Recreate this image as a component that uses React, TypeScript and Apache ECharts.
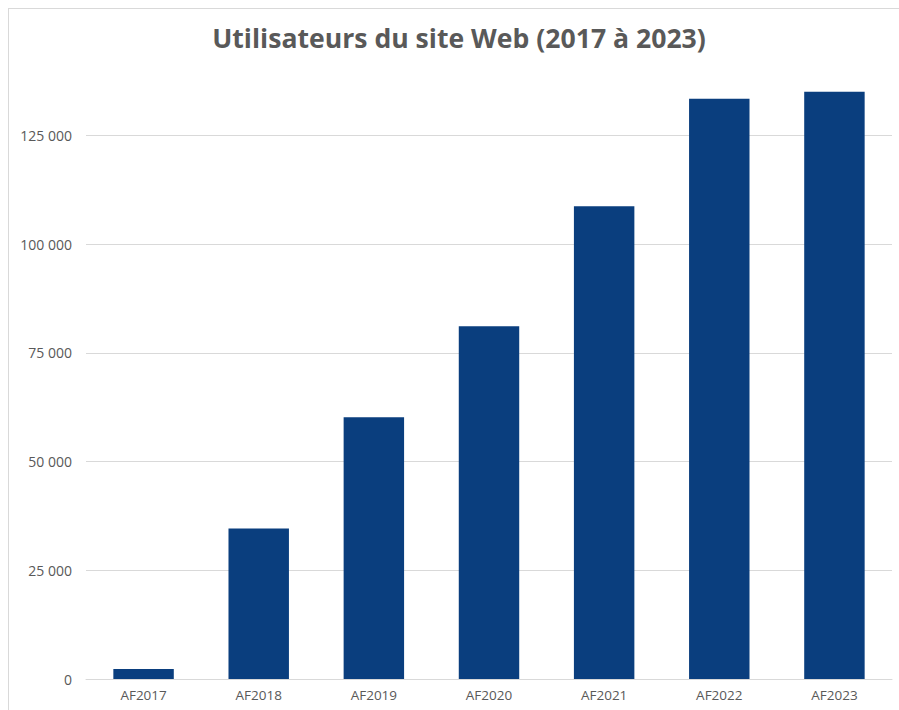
import React, { useEffect, useRef } from "react";
import * as echarts from "echarts";

const categories = ["AF2017", "AF2018", "AF2019", "AF2020", "AF2021", "AF2022", "AF2023"];
const users = [2300, 34600, 60200, 81100, 108700, 133400, 135000];
const titleText = "Utilisateurs du site Web (2017 à 2023)";

const formatNumber = (v: number) =>
  String(Math.round(v)).replace(/\B(?=(\d{3})+(?!\d))/g, " ");

export default function App() {
  const ref = useRef<HTMLDivElement>(null);
  useEffect(() => {
    document.body.style.overflow = "hidden";
    const chart = echarts.init(ref.current!, null, { renderer: "svg" });
    chart.setOption({
      animation: false,
      backgroundColor: "#ffffff",
      title: {
        text: titleText,
        left: "center",
        top: 10,
        textStyle: {
          fontFamily: "'Open Sans', sans-serif",
          fontWeight: "bold",
          fontSize: 26.6,
          color: "#595959",
        },
      },
      grid: { left: 77, right: 17, top: 61, bottom: 40, containLabel: false },
      xAxis: {
        type: "category",
        data: categories,
        axisLine: { show: true, lineStyle: { color: "#d9d9d9", width: 1 } },
        axisTick: { show: false },
        axisLabel: {
          color: "#595959",
          fontFamily: "'Open Sans', sans-serif",
          fontSize: 13.5,
          margin: 9,
        },
      },
      yAxis: {
        type: "value",
        min: 0,
        max: 140000,
        interval: 25000,
        axisLine: { show: false },
        axisTick: { show: false },
        axisLabel: {
          color: "#595959",
          fontFamily: "'Open Sans', sans-serif",
          fontSize: 14,
          margin: 14,
          showMaxLabel: false,
          formatter: (v: number) => formatNumber(v),
        },
        splitLine: {
          show: true,
          showMaxLine: false,
          lineStyle: { color: "#d9d9d9", width: 1 },
        },
      },
      series: [
        {
          type: "bar",
          data: users,
          barWidth: "52.5%",
          itemStyle: { color: "#0A3E7E" },
        },
      ],
    });
    return () => chart.dispose();
  }, []);
  return (
    <div
      style={{
        position: "fixed",
        left: 8,
        top: 8,
        width: 900,
        height: 710,
        border: "1px solid #d9d9d9",
        background: "#fff",
      }}
    >
      <div ref={ref} style={{ width: 900, height: 710 }} />
    </div>
  );
}
